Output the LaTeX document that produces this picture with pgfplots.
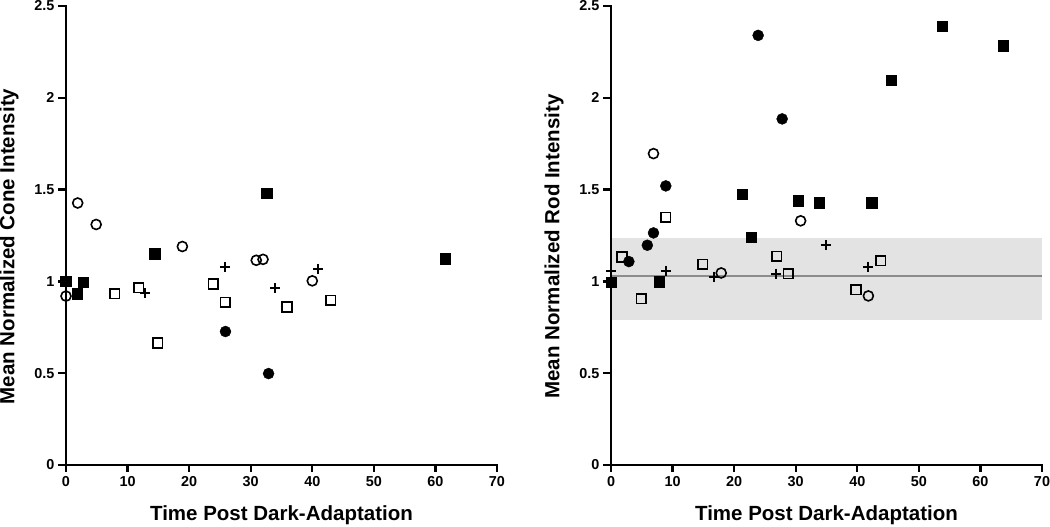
\documentclass[border=0pt]{standalone}
\usepackage{pgfplots}
\pgfplotsset{compat=1.18}
\usepackage{fontspec}
\setmainfont{Liberation Sans}
\pgfplotsset{
  myax/.style={
    scale only axis, width=431pt, height=459pt,
    xmin=0, xmax=70, ymin=0, ymax=2.5,
    axis lines*=left,
    axis line style={draw=none},
    xtick={0,10,...,70}, ytick={0,0.5,1,1.5,2,2.5},
    yticklabels={0,0.5,1,1.5,2,2.5},
    tick align=outside, major tick length=8pt,
    major tick style={draw=none},
    xticklabel style={font=\fontsize{14.4}{15}\selectfont\bfseries},
    yticklabel style={font=\fontsize{14.4}{15}\selectfont\bfseries},
    every axis x label/.style={at={(axis description cs:0.5,-0.109)},anchor=center,font=\fontsize{20.5}{22}\selectfont\bfseries},
    every axis y label/.style={at={(axis description cs:-0.132,0.476)},rotate=90,anchor=center,font=\fontsize{20.5}{22}\selectfont\bfseries},
    clip=false,
    /pgf/number format/assume math mode=true,
  },
  fsq/.style={only marks, mark=square*, mark size=5.3pt, mark options={fill=black, draw=black}},
  osq/.style={only marks, mark=square, mark size=4.8pt, mark options={draw=black, line width=1.6pt}},
  ocirc/.style={only marks, mark=o, mark size=5pt, mark options={draw=black, line width=1.6pt}},
  fcirc/.style={only marks, mark=*, mark size=5.5pt, mark options={fill=black, draw=black}},
  pls/.style={only marks, mark=+, mark size=5pt, mark options={draw=black, line width=2pt}},
}
\newcommand{\axframe}{%
  \draw[line width=2.8pt, line cap=rect] (rel axis cs:0,1) -- (rel axis cs:0,0) -- (rel axis cs:1,0);
  \pgfplotsinvokeforeach{0,10,20,30,40,50,60,70}{\draw[line width=2.4pt] (axis cs:##1,0) -- ++(0,-7pt);}
  \pgfplotsinvokeforeach{0,0.5,1,1.5,2,2.5}{\draw[line width=2.4pt] (axis cs:0,##1) -- ++(-8pt,0);}
}
\begin{document}
\begin{tikzpicture}
\path[use as bounding box] (-66pt,-62pt) rectangle (984pt,465pt);
\begin{axis}[myax, xlabel={Time Post Dark-Adaptation}, ylabel={Mean Normalized Cone Intensity}]
\axframe
\addplot[fsq] coordinates {(0,1.0)(1.8,0.932)(2.8,0.995)(14.4,1.15)(32.6,1.48)(61.6,1.122)};
\addplot[ocirc] coordinates {(0,0.92)(1.9,1.427)(4.9,1.31)(18.9,1.19)(30.9,1.115)(32.0,1.12)(40.0,1.003)};
\addplot[osq] coordinates {(7.9,0.932)(11.8,0.965)(14.9,0.665)(23.9,0.986)(25.9,0.886)(35.9,0.861)(43.0,0.897)};
\addplot[pls] coordinates {(12.9,0.937)(25.9,1.08)(34.0,0.962)(41.0,1.07)};
\addplot[fcirc] coordinates {(25.9,0.727)(32.9,0.498)};
\end{axis}
\begin{axis}[myax, xshift=545pt, xlabel={Time Post Dark-Adaptation}, ylabel={Mean Normalized Rod Intensity}]
\addplot[fill=black!11, draw=none] coordinates {(0,0.792)(70,0.792)(70,1.238)(0,1.238)} -- cycle;
\addplot[black!45, line width=1.5pt, mark=none] coordinates {(0,1.03)(70,1.03)};
\axframe
\addplot[fsq] coordinates {(0,0.995)(7.8,0.997)(21.3,1.476)(22.8,1.24)(30.4,1.44)(33.8,1.43)(42.3,1.43)(45.5,2.095)(53.8,2.39)(63.7,2.285)};
\addplot[fcirc] coordinates {(2.9,1.108)(5.9,1.197)(6.9,1.264)(8.9,1.52)(23.9,2.34)(27.8,1.885)};
\addplot[ocirc] coordinates {(6.9,1.696)(17.9,1.046)(30.8,1.33)(41.8,0.921)};
\addplot[osq] coordinates {(1.8,1.133)(4.9,0.905)(8.9,1.35)(14.9,1.093)(26.9,1.137)(28.8,1.041)(39.8,0.954)(43.8,1.113)};
\addplot[pls] coordinates {(0,1.057)(8.9,1.057)(16.8,1.026)(26.8,1.042)(34.9,1.197)(41.8,1.079)};
\end{axis}
\end{tikzpicture}
\end{document}
